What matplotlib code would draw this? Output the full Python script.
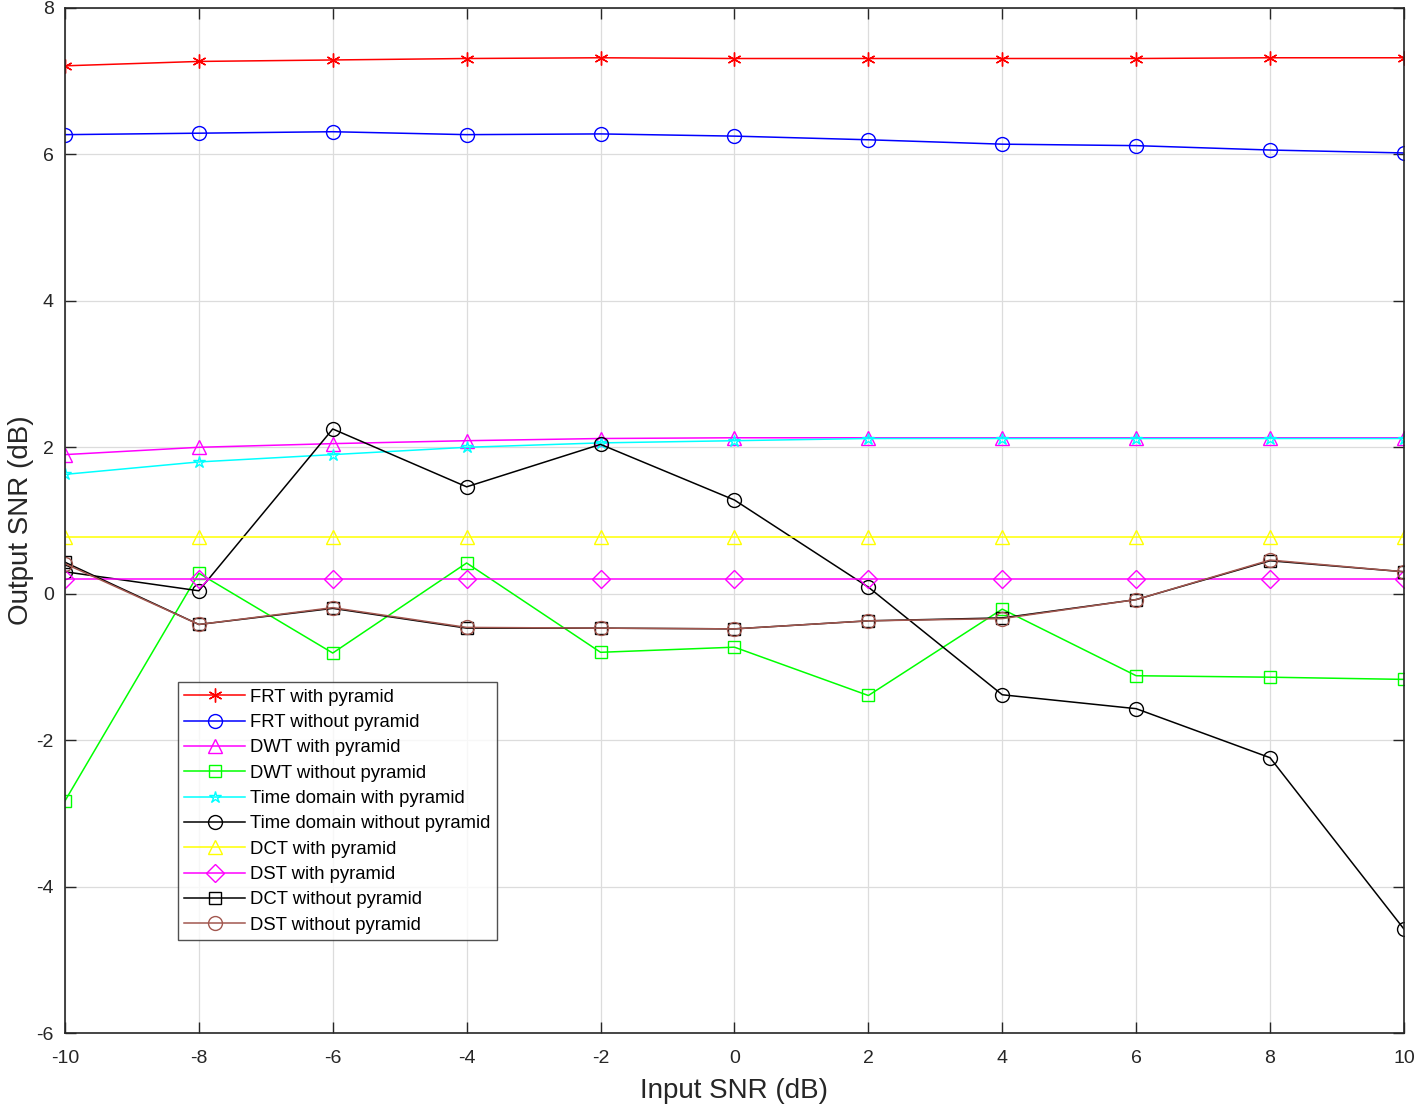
import matplotlib
matplotlib.use("Agg")
from matplotlib import pyplot as plt

# Input SNR values (dB) on the x axis.
snr_in = [-10, -8, -6, -4, -2, 0, 2, 4, 6, 8, 10]

# Output SNR (dB) for every method.
frt_pyr = [7.21, 7.27, 7.29, 7.31, 7.32, 7.31, 7.31, 7.31, 7.31, 7.32, 7.32]
frt_nopyr = [6.27, 6.29, 6.31, 6.27, 6.28, 6.25, 6.20, 6.14, 6.12, 6.06, 6.02]
dwt_pyr = [1.90, 2.00, 2.05, 2.09, 2.12, 2.13, 2.13, 2.13, 2.13, 2.13, 2.13]
dwt_nopyr = [-2.83, 0.28, -0.81, 0.42, -0.80, -0.73, -1.39, -0.21, -1.12, -1.14, -1.17]
time_pyr = [1.63, 1.80, 1.90, 2.00, 2.06, 2.09, 2.12, 2.12, 2.12, 2.12, 2.12]
time_nopyr = [0.30, 0.04, 2.25, 1.46, 2.04, 1.28, 0.09, -1.38, -1.57, -2.24, -4.58]
dct_pyr = [0.77, 0.77, 0.77, 0.77, 0.77, 0.77, 0.77, 0.77, 0.77, 0.77, 0.77]
dst_pyr = [0.20, 0.20, 0.20, 0.20, 0.20, 0.20, 0.20, 0.20, 0.20, 0.20, 0.20]
dct_nopyr = [0.43, -0.42, -0.20, -0.47, -0.47, -0.48, -0.37, -0.33, -0.08, 0.45, 0.30]
dst_nopyr = [0.41, -0.42, -0.19, -0.46, -0.47, -0.48, -0.37, -0.34, -0.08, 0.46, 0.30]

labels = ["FRT with pyramid", "FRT without pyramid", "DWT with pyramid", "DWT without pyramid",
          "Time domain with pyramid", "Time domain without pyramid", "DCT with pyramid",
          "DST with pyramid", "DCT without pyramid", "DST without pyramid"]
series = [frt_pyr, frt_nopyr, dwt_pyr, dwt_nopyr, time_pyr, time_nopyr, dct_pyr, dst_pyr,
          dct_nopyr, dst_nopyr]
colors = ["#ff0000", "#0000ff", "#ff00ff", "#00ff00", "#00ffff", "#000000", "#ffff00",
          "#ff00ff", "#000000", "#a2574f"]
# MATLAB style asterisk for the first series.
markers = [(6, 2, 0), "o", "^", "s", "*", "o", "^", "D", "s", "o"]
sizes = [10, 10, 10, 8, 9, 10, 10, 9, 8, 10]

plt.rcParams["font.family"] = ["Liberation Sans", "DejaVu Sans"]
plt.rcParams["axes.unicode_minus"] = False

fig = plt.figure(figsize=(14.18, 11.09), dpi=100)
ax = fig.add_axes([0.0458, 0.0685, 0.9443, 0.9243])

for y, lab, c, m, s in zip(series, labels, colors, markers, sizes):
    ax.plot(snr_in, y, color=c, marker=m, markersize=s, markerfacecolor="none",
            markeredgecolor=c, markeredgewidth=1.0, linewidth=1.1, label=lab)

ax.set_xlim(-10, 10)
ax.set_ylim(-6, 8)
ax.set_xticks(range(-10, 11, 2))
ax.set_yticks(range(-6, 9, 2))
ax.grid(True, color="#dcdcdc", linewidth=0.9)
ax.tick_params(direction="in", top=True, right=True, length=8, width=1.0,
               labelsize=14, colors="#262626")
ax.tick_params(axis="x", pad=12)
ax.tick_params(axis="y", pad=8)
for sp in ax.spines.values():
    sp.set_color("#262626")
    sp.set_linewidth(1.2)

ax.set_xlabel("Input SNR (dB)", fontsize=20, color="#262626", labelpad=8)
ax.set_ylabel("Output SNR (dB)", fontsize=20, color="#262626", labelpad=2)

leg = ax.legend(loc="lower left", bbox_to_anchor=(0.0844, 0.0907), fontsize=13.3,
                frameon=True, fancybox=False, edgecolor="#262626", handlelength=3.3,
                handletextpad=0.25, borderpad=0.35, labelspacing=0.45, borderaxespad=0)
leg.get_frame().set_linewidth(1.0)

fig.savefig("out.png", dpi=100, facecolor="white")
plt.close(fig)
